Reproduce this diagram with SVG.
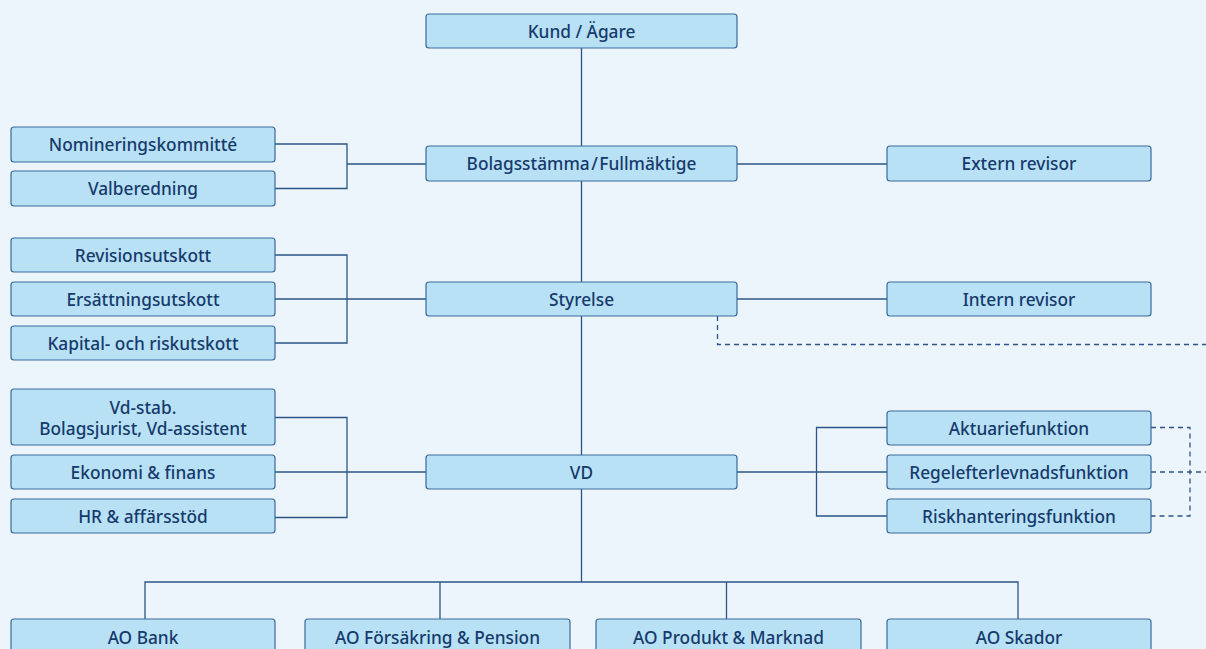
<svg xmlns="http://www.w3.org/2000/svg" width="1206" height="649" viewBox="0 0 1206 649">
<style>
.bg{fill:#EDF5FC}
.box{fill:#B8E1F6;stroke:#3A6A99;stroke-width:1.2}
.t{font-family:"Noto Sans","Liberation Sans",sans-serif;font-size:17.3px;font-weight:500;fill:#163A6B;text-anchor:middle}
.ln{fill:none;stroke:#2C5585;stroke-width:1.3}
.dl{fill:none;stroke:#2C5585;stroke-width:1.3;stroke-dasharray:5 4}
</style>
<rect class="bg" x="0" y="0" width="1206" height="649"/>
<g id="connectors">
<path class="ln" d="M581.5 48V582"/>
<path class="ln" d="M275 144H347V188.5H275M347 164H426"/>
<path class="ln" d="M737 164H887"/>
<path class="ln" d="M275 255H347V343H275M275 299H426"/>
<path class="ln" d="M737 299H887"/>
<path class="ln" d="M275 417.5H347V517.5H275M275 472H426"/>
<path class="ln" d="M737 472H887M887 427.5H816.5V516H887"/>
<path class="ln" d="M145 619V582H1018V619M440 582V619M726.5 582V619"/>
<path class="dl" d="M717.5 316V344.5H1206"/>
<path class="dl" d="M1151 427.5H1190V516H1151M1151 472H1206"/>
</g>
<g id="kund"><rect class="box" x="426" y="14" width="311" height="34" rx="3"/><text class="t" x="581.5" y="37.5">Kund / Ägare</text></g>
<g id="nominering"><rect class="box" x="11" y="127" width="264" height="35" rx="3"/><text class="t" x="143" y="150.5">Nomineringskommitté</text></g>
<g id="valberedning"><rect class="box" x="11" y="171" width="264" height="35" rx="3"/><text class="t" x="143" y="194.5">Valberedning</text></g>
<g id="bolagsstamma"><rect class="box" x="426" y="146" width="311" height="35" rx="3"/><text class="t" x="581.5" y="169.5" word-spacing="-3">Bolagsstämma / Fullmäktige</text></g>
<g id="extern"><rect class="box" x="887" y="146" width="264" height="35" rx="3"/><text class="t" x="1019" y="169.5">Extern revisor</text></g>
<g id="revisionsutskott"><rect class="box" x="11" y="238" width="264" height="34" rx="3"/><text class="t" x="143" y="261.5">Revisionsutskott</text></g>
<g id="ersattningsutskott"><rect class="box" x="11" y="282" width="264" height="34" rx="3"/><text class="t" x="143" y="305.5">Ersättningsutskott</text></g>
<g id="kapital"><rect class="box" x="11" y="326" width="264" height="34" rx="3"/><text class="t" x="143" y="349.5">Kapital- och riskutskott</text></g>
<g id="styrelse"><rect class="box" x="426" y="282" width="311" height="34" rx="3"/><text class="t" x="581.5" y="305.5">Styrelse</text></g>
<g id="intern"><rect class="box" x="887" y="282" width="264" height="34" rx="3"/><text class="t" x="1019" y="305.5">Intern revisor</text></g>
<g id="vdstab"><rect class="box" x="11" y="389" width="264" height="56" rx="3"/><text class="t" x="143" y="414">Vd-stab.</text><text class="t" x="143" y="435">Bolagsjurist, Vd-assistent</text></g>
<g id="ekonomi"><rect class="box" x="11" y="455" width="264" height="34" rx="3"/><text class="t" x="143" y="478.5">Ekonomi &amp; finans</text></g>
<g id="hr"><rect class="box" x="11" y="499" width="264" height="34" rx="3"/><text class="t" x="143" y="522.5">HR &amp; affärsstöd</text></g>
<g id="vd"><rect class="box" x="426" y="455" width="311" height="34" rx="3"/><text class="t" x="581.5" y="478.5">VD</text></g>
<g id="aktuarie"><rect class="box" x="887" y="411" width="264" height="34" rx="3"/><text class="t" x="1019" y="434.5">Aktuariefunktion</text></g>
<g id="regel"><rect class="box" x="887" y="455" width="264" height="34" rx="3"/><text class="t" x="1019" y="478.5">Regelefterlevnadsfunktion</text></g>
<g id="risk"><rect class="box" x="887" y="499" width="264" height="34" rx="3"/><text class="t" x="1019" y="522.5">Riskhanteringsfunktion</text></g>
<g id="aobank"><rect class="box" x="11" y="619" width="264" height="40" rx="3"/><text class="t" x="143" y="644">AO Bank</text></g>
<g id="aoforsakring"><rect class="box" x="305" y="619" width="265" height="40" rx="3"/><text class="t" x="437.5" y="644">AO Försäkring &amp; Pension</text></g>
<g id="aoprodukt"><rect class="box" x="596" y="619" width="265" height="40" rx="3"/><text class="t" x="728.5" y="644">AO Produkt &amp; Marknad</text></g>
<g id="aoskador"><rect class="box" x="887" y="619" width="264" height="40" rx="3"/><text class="t" x="1019" y="644">AO Skador</text></g>
</svg>
